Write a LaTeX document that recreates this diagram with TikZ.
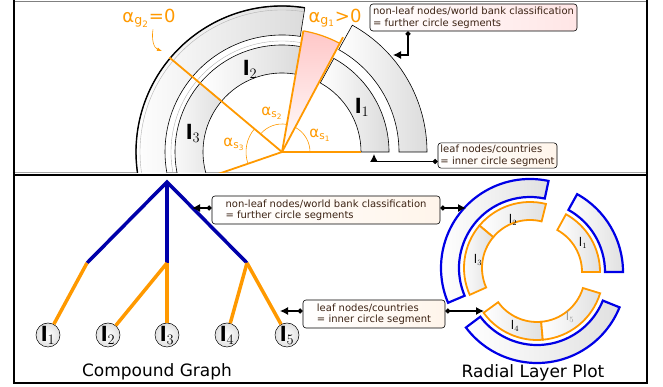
\documentclass[tikz,border=0pt]{standalone}
\usepackage{fontspec}
\setmainfont{DejaVu Sans}
\usetikzlibrary{arrows.meta, positioning}
\definecolor{segorange}{RGB}{255,153,0}
\definecolor{treeblue}{RGB}{0,0,170}
\definecolor{plotblue}{RGB}{0,0,230}
\definecolor{notetext}{RGB}{60,35,20}

% ring segment: [style]{center}{start}{end}{inner r}{outer r}
\newcommand{\ringpart}[6][]{%
  \path[#1, shift={(#2)}] (#3:#5) -- (#3:#6)
    arc[start angle=#3, end angle=#4, radius=#6] -- (#4:#5)
    arc[start angle=#4, end angle=#3, radius=#5] -- cycle;}

\begin{document}
\begin{tikzpicture}[
    x=1pt, y=1pt,
    every node/.style={font=\fontsize{10}{11.5}\selectfont},
    ring/.style={draw=black, line width=0.6pt, left color=white, right color=black!14},
    orangeline/.style={draw=segorange, line width=1.8pt},
    anglearc/.style={draw=segorange, line width=0.6pt},
    alabel/.style={text=segorange, font=\fontsize{15}{15}\selectfont, inner sep=0pt},
    llabel/.style={font=\fontsize{20}{20}\selectfont, inner sep=0pt},
    note/.style={rectangle, rounded corners=3pt, draw=black, line width=0.6pt,
                 text=notetext, align=left, inner sep=2pt},
    pinknote/.style={note, left color=white, right color=red!10},
    creamnote/.style={note, left color=white, right color=orange!8},
    arrow/.style={{Circle[length=5pt]}-{Latex[length=8pt, width=8pt]}, line width=1.2pt},
    blueedge/.style={draw=treeblue, line width=3.5pt},
    orangeedge/.style={draw=segorange, line width=3.5pt},
    leaf/.style={circle, draw=black, line width=0.5pt, inner sep=0pt, minimum size=24pt,
                 inner color=white, outer color=black!12, font=\fontsize{20}{20}\selectfont},
    plotorange/.style={draw=segorange, line width=1.8pt, left color=white, right color=black!12},
    plotblue/.style={draw=plotblue, line width=2.2pt, left color=white, right color=black!12},
    title/.style={font=\fontsize{17}{17}\selectfont}
]
\useasboundingbox (0,0) rectangle (663,387);

% Frames
\draw[gray, line width=0.8pt] (14,386) -- (647,386);
\draw[gray!70, line width=0.6pt] (14,215) -- (647,215);
\draw[line width=2.5pt] (14,387) -- (14,4) -- (647,4) -- (647,387);
\draw[line width=2.5pt] (14,212) -- (647,212);

% Top panel: radial layer construction
\coordinate (topc) at (282,235);
\begin{scope}
\clip (15,214) rectangle (646,385);
\ringpart[ring]{topc}{0}{61}{79}{107}
\ringpart[ring]{topc}{80}{140}{79}{107}
\ringpart[ring]{topc}{140}{230}{79}{107}
\ringpart[ring]{topc}{0}{61}{117}{145}
\ringpart[ring]{topc}{81}{230}{117}{146}
\draw[line width=1.4pt, shift={(topc)}] (81:146) arc[start angle=81, end angle=230, radius=146];
\draw[gray!60, line width=0.4pt, shift={(topc)}] (81:142) arc[start angle=81, end angle=230, radius=142];
\draw[gray!60, line width=0.4pt, shift={(topc)}] (80:111) arc[start angle=80, end angle=230, radius=111];
% gap between the groups
\shade[top color=red!22, bottom color=white, shift={(topc)}]
  (0,0) -- (62:123) arc[start angle=62, end angle=80, radius=123] -- cycle;
\draw[anglearc, line width=1.2pt, shift={(topc)}] (62:123) arc[start angle=62, end angle=80, radius=123];
% angles
\draw[anglearc, shift={(topc)}] (0:28) arc[start angle=0, end angle=61, radius=28];
\draw[anglearc, shift={(topc)}] (80:28) arc[start angle=80, end angle=140, radius=28];
\draw[anglearc, shift={(topc)}] (140:36) arc[start angle=140, end angle=199, radius=36];
\draw[orangeline, shift={(topc)}] (0,0) -- (0:79);
\draw[orangeline, shift={(topc)}] (0,0) -- (62:130);
\draw[orangeline, shift={(topc)}] (0,0) -- (80:123);
\draw[orangeline, shift={(topc)}] (0,0) -- (140:147);
\draw[orangeline, shift={(topc)}] (0,0) -- (199:90);
\end{scope}

% Top panel labels
\node[alabel] (as1) at (320,252) {α\textsubscript{s\textsubscript{1}}};
\node[alabel] (as2) at (272,274) {α\textsubscript{s\textsubscript{2}}};
\node[alabel] (as3) at (234,243) {α\textsubscript{s\textsubscript{3}}};
\node[alabel, font=\fontsize{18}{18}\selectfont] (ag1) at (335,369) {α\textsubscript{g\textsubscript{1}}>0};
\node[alabel, font=\fontsize{18}{18}\selectfont] (ag2) at (149,369) {α\textsubscript{g\textsubscript{2}}=0};
\coordinate (g2hit) at (162,336);
\draw[segorange, line width=0.6pt, -{Latex[length=5pt]}] (ag2.south) ++(4,-2) to[out=-100, in=160] (g2hit);
\node[llabel] (tl1) at (362,280) {$\mathbf{l}_1$};
\node[llabel] (tl2) at (250,318) {$\mathbf{l}_2$};
\node[llabel] (tl3) at (193,254) {$\mathbf{l}_3$};

% Top panel notes
\node[pinknote, minimum width=207pt, minimum height=27pt] (topgroup) at (473.5,369.5)
  {non-leaf nodes/world bank classification\\= further circle segments};
\node[creamnote, minimum width=119pt, minimum height=25pt] (topleaf) at (497.5,231.5)
  {leaf nodes/countries\\= inner circle segment};
\coordinate (groupnote) at (393,332);
\coordinate (leafnote) at (374,233);
\draw[arrow] (topgroup.south -| 408,0) |- (groupnote);
\draw[arrow] ([yshift=-6pt]topleaf.west) -| (leafnote);

% Compound graph
\coordinate (root) at (167,205);
\coordinate (g1) at (87,124);
\coordinate (g2) at (167,124);
\coordinate (g3) at (247,124);
\node[leaf] (l1) at (48,52) {$\mathbf{l}_1$};
\node[leaf] (l2) at (108,52) {$\mathbf{l}_2$};
\node[leaf] (l3) at (167,52) {$\mathbf{l}_3$};
\node[leaf] (l4) at (227,52) {$\mathbf{l}_4$};
\node[leaf] (l5) at (287,52) {$\mathbf{l}_5$};
\draw[blueedge] (g1) -- (root) -- (g3);
\draw[blueedge] (root) -- (g2);
\draw[orangeedge] (g1) -- (l1);
\draw[orangeedge] (g2) -- (l2);
\draw[orangeedge] (g2) -- (l3);
\draw[orangeedge] (g3) -- (l4);
\draw[orangeedge] (g3) -- (l5);
\node[title] (cgraph) at (157,15) {Compound Graph};

% Radial layer plot
\coordinate (p1) at (534,115);
\coordinate (p2) at (530,119);
\coordinate (p3) at (537,113);
\ringpart[plotorange]{p1}{0}{61}{48}{66}
\ringpart[plotblue]{p1}{0}{61}{71}{89}
\ringpart[plotorange]{p2}{76}{140}{48}{66}
\ringpart[plotorange]{p2}{140}{204}{48}{66}
\ringpart[plotblue]{p2}{78}{203}{71}{89}
\ringpart[plotorange]{p3}{216}{275}{48}{66}
\ringpart[plotorange]{p3}{275}{343}{48}{66}
\ringpart[plotblue]{p3}{217}{338}{71}{89}
\node[font=\fontsize{12}{12}\selectfont] (pl1) at (583,144) {$\mathrm{l}_1$};
\node[font=\fontsize{12}{12}\selectfont] (pl2) at (513,167) {$\mathrm{l}_2$};
\node[font=\fontsize{12}{12}\selectfont] (pl3) at (478,127) {$\mathrm{l}_3$};
\node[font=\fontsize{12}{12}\selectfont] (pl4) at (515,61) {$\mathrm{l}_4$};
\node[font=\fontsize{12}{12}\selectfont, text=black!40] (pl5) at (570,70) {$\mathrm{l}_5$};
\node[title] (rplot) at (533,14) {Radial Layer Plot};

% Bottom notes
\node[creamnote, minimum width=228pt, minimum height=28pt] (groupbox) at (326,177)
  {non-leaf nodes/world bank classification\\= further circle segments};
\node[creamnote, minimum width=142pt, minimum height=28pt] (leafbox) at (374,73)
  {leaf nodes/countries\\= inner circle segment};
\coordinate (groupedge) at (192,179);
\coordinate (groupring) at (466,179);
\coordinate (leafedge) at (280,76);
\coordinate (leafring) at (484,76);
\draw[arrow] (groupbox.west |- groupedge) -- (groupedge);
\draw[arrow] (groupbox.east |- groupring) -- (groupring);
\draw[arrow] (leafbox.west |- leafedge) -- (leafedge);
\draw[arrow] (leafbox.east |- leafring) -- (leafring);

\end{tikzpicture}
\end{document}
